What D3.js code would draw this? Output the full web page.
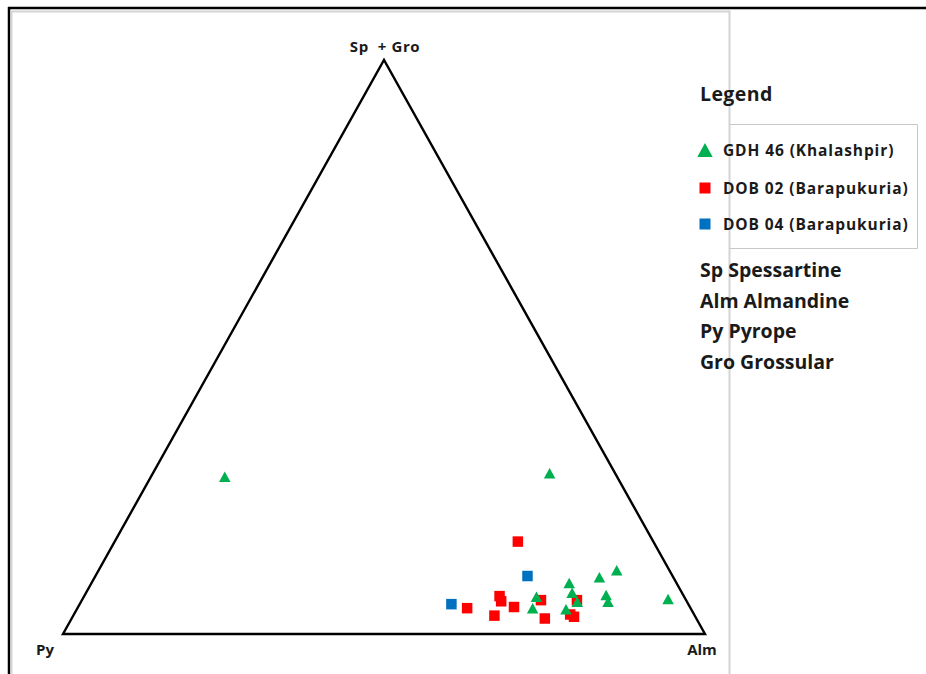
<!DOCTYPE html>
<html>
<head>
<meta charset="utf-8">
<script src="https://cdn.jsdelivr.net/npm/d3@7"></script>
<style>
  html, body { margin: 0; padding: 0; background: #fff; }
  svg { display: block; font-family: "Open Sans", Lato, sans-serif; }
</style>
</head>
<body>
<svg id="chart" width="926" height="674"></svg>
<script>
// Garnet compositions in mol % : [Sp+Gro, Alm, Py]
const gdh46 = [
  [11.1, 80.7, 8.2], [9.9, 78.6, 11.5], [8.9, 74.4, 16.7], [7.2, 75.7, 17.1],
  [6.5, 70.5, 23.0], [6.8, 81.2, 12.0], [5.6, 82.1, 12.3], [5.6, 77.3, 17.1],
  [4.5, 70.9, 24.6], [4.3, 76.2, 19.5], [6.1, 91.2, 2.7], [27.4, 11.5, 61.1],
  [28.0, 61.8, 10.2]
];
const dob02 = [
  [16.1, 62.8, 21.1], [6.6, 64.7, 28.7], [5.7, 65.4, 28.9], [4.7, 67.9, 27.4],
  [4.5, 60.7, 34.8], [3.2, 65.6, 31.2], [5.9, 71.5, 22.6], [2.7, 73.7, 23.6],
  [5.9, 77.1, 17.0], [3.4, 77.3, 19.3], [3.0, 78.1, 18.9]
];
const dob04 = [
  [10.1, 67.3, 22.6], [5.2, 57.9, 36.9]
];

const seriesNames = ["GDH 46 (Khalashpir)", "DOB 02 (Barapukuria)", "DOB 04 (Barapukuria)"];
const seriesColors = ["#00b050", "#ff0000", "#0070c0"];
const seriesShapes = ["triangle", "square", "square"];
const apexLabels = { top: "Sp  + Gro", left: "Py", right: "Alm" };
const abbreviations = ["Sp Spessartine", "Alm Almandine", "Py Pyrope", "Gro Grossular"];

const svg = d3.select("#chart");

// Page frame
svg.append("line").attr("x1", 8).attr("x2", 926).attr("y1", 8).attr("y2", 8)
  .attr("stroke", "#000").attr("stroke-width", 2.5);
svg.append("line").attr("x1", 9).attr("x2", 9).attr("y1", 7).attr("y2", 674)
  .attr("stroke", "#000").attr("stroke-width", 2.5);
svg.append("path").attr("d", "M11.5,674 V11.5 H729.5 V674")
  .attr("fill", "none").attr("stroke", "#d4d4d4").attr("stroke-width", 2);

// Ternary scales: vertical = Sp+Gro, horizontal = Alm + half of Sp+Gro
const yScale = d3.scaleLinear().domain([0, 100]).range([634, 60]);
const xScale = d3.scaleLinear().domain([0, 100]).range([63, 705]);
const project = d => [xScale(d[1] + d[0] / 2), yScale(d[0])];

const corners = [[0, 0, 100], [0, 100, 0], [100, 0, 0]].map(project);
svg.append("path")
  .attr("d", d3.line()(corners) + "Z")
  .attr("fill", "none").attr("stroke", "#000").attr("stroke-width", 2.4)
  .attr("stroke-linejoin", "miter");

// Apex labels
const labelStyle = s => s.attr("font-weight", 700).attr("font-size", 15).attr("fill", "#1a1a1a");
svg.append("text").attr("x", corners[2][0] + 1).attr("y", corners[2][1] - 8)
  .attr("text-anchor", "middle").text(apexLabels.top).call(labelStyle)
  .attr("letter-spacing", 0.6)
  .attr("xml:space", "preserve").style("white-space", "pre");
svg.append("text").attr("x", corners[0][0] - 18).attr("y", corners[0][1] + 21)
  .attr("text-anchor", "middle").text(apexLabels.left).call(labelStyle);
svg.append("text").attr("x", corners[1][0] - 3).attr("y", corners[1][1] + 21)
  .attr("text-anchor", "middle").text(apexLabels.right).call(labelStyle);

// Marker shapes
function markerPath(shape, s) {
  if (shape === "triangle") {
    const w = s * 1.1, h = s;
    return `M0,${-h / 2}L${w / 2},${h / 2}L${-w / 2},${h / 2}Z`;
  }
  return `M${-s / 2},${-s / 2}h${s}v${s}h${-s}Z`;
}

// Data points (squares first, triangles on top)
const allSeries = [dob02, dob04, gdh46];
const seriesIndex = [1, 2, 0];
allSeries.forEach((data, k) => {
  const i = seriesIndex[k];
  svg.append("g").selectAll("path").data(data).join("path")
    .attr("transform", d => `translate(${project(d)})`)
    .attr("d", markerPath(seriesShapes[i], 10.5))
    .attr("fill", seriesColors[i]);
});

// Legend
svg.append("text").attr("x", 700).attr("y", 101)
  .attr("font-weight", 700).attr("font-size", 19.5).attr("letter-spacing", 0.4)
  .attr("fill", "#1a1a1a").text("Legend");
svg.append("path").attr("d", "M730,124.5 H917.5 V248.5 H730")
  .attr("fill", "none").attr("stroke", "#c8c8c8").attr("stroke-width", 1);

const legendY = [150, 188, 224];
const legendRows = svg.append("g").selectAll("g").data(seriesNames).join("g")
  .attr("transform", (d, i) => `translate(0,${legendY[i]})`);
legendRows.append("path")
  .attr("transform", "translate(705,0)")
  .attr("d", (d, i) => markerPath(seriesShapes[i], i === 0 ? 14 : 11))
  .attr("fill", (d, i) => seriesColors[i]);
legendRows.append("text").attr("x", 723).attr("y", 5.5)
  .attr("font-weight", 700).attr("font-size", 15.5).attr("letter-spacing", 0.9)
  .attr("fill", "#1a1a1a")
  .text(d => d);

// Abbreviation key
svg.append("g").selectAll("text").data(abbreviations).join("text")
  .attr("x", 700).attr("y", (d, i) => 277 + i * 30.7)
  .attr("font-weight", 700).attr("font-size", 19.5)
  .attr("fill", "#1a1a1a")
  .text(d => d);
</script>
</body>
</html>
